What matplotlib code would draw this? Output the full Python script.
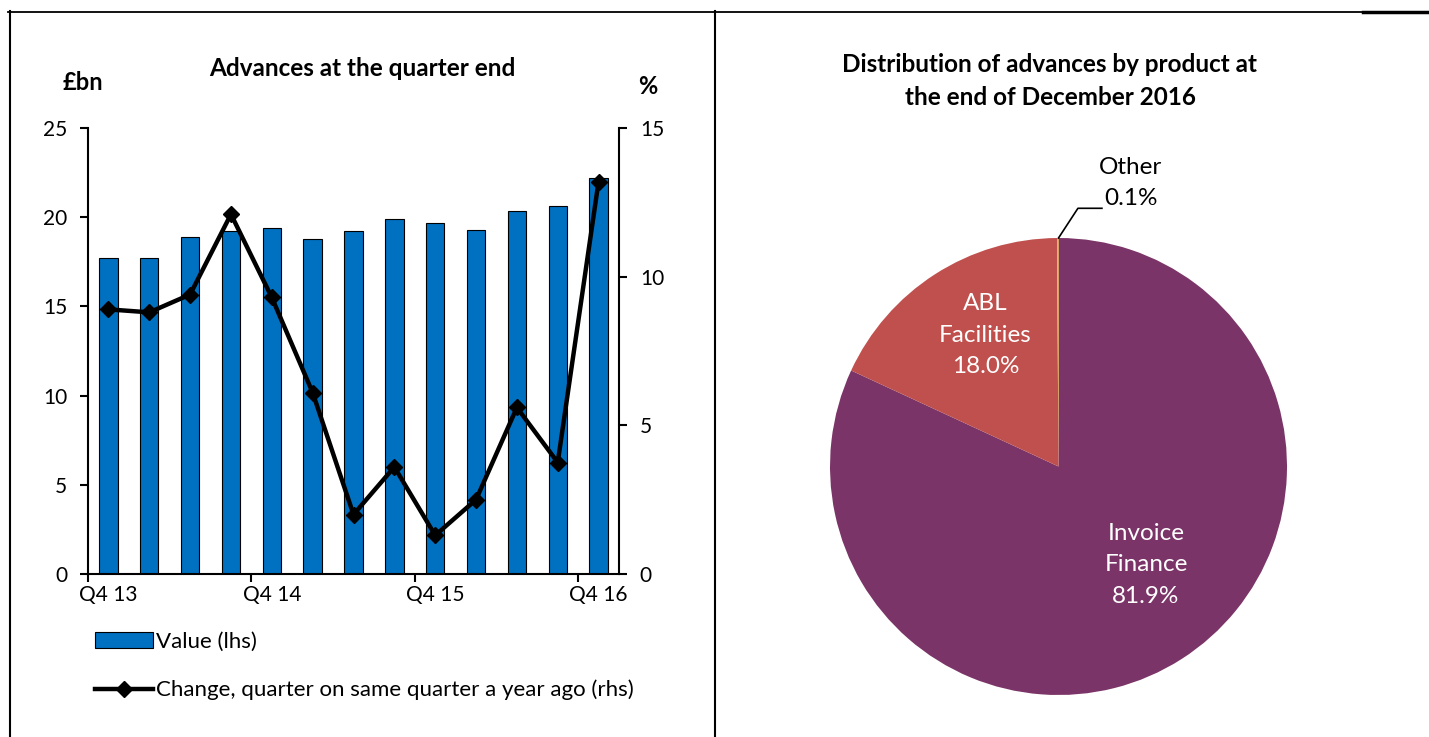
import numpy as np
import matplotlib.pyplot as plt
from matplotlib.lines import Line2D

plt.rcParams['font.family'] = ['Lato', 'DejaVu Sans']

# Dannye: levaya diagramma
quarters = ['Q4 13', 'Q1 14', 'Q2 14', 'Q3 14', 'Q4 14', 'Q1 15', 'Q2 15',
            'Q3 15', 'Q4 15', 'Q1 16', 'Q2 16', 'Q3 16', 'Q4 16']
value_bn = [17.7, 17.7, 18.9, 19.2, 19.4, 18.8, 19.25, 19.9, 19.65, 19.3, 20.35, 20.65, 22.2]
change_pct = [8.9, 8.8, 9.4, 12.1, 9.3, 6.1, 2.0, 3.6, 1.3, 2.5, 5.6, 3.75, 13.2]
shown_labels = ['Q4 13', 'Q4 14', 'Q4 15', 'Q4 16']

# Dannye: krugovaya diagramma
products = ['Invoice\nFinance', 'ABL\nFacilities', 'Other']
shares = [81.9, 18.0, 0.1]
pie_colors = ['#7B3467', '#C0504D', '#F2B01E']

W, H = 1429, 737
fig = plt.figure(figsize=(W / 100, H / 100), dpi=100)


def fx(px):
    return px / W


def fy(py):
    return 1 - py / H


FS = 15        # podpisi osei
FS_LEG = 16    # legenda
FS_T = 17.5    # zagolovki
FS_PIE = 17.5  # podpisi sektorov

# ---- Levaya diagramma ----
ax = fig.add_axes([fx(88), fy(574), fx(619) - fx(88), fy(128) - fy(574)])
x = np.arange(len(quarters))
ax.bar(x, value_bn, width=0.45, color='#0070C0', edgecolor='black', linewidth=0.8,
       label='Value (lhs)', zorder=2)
ax.set_xlim(-0.5, len(quarters) - 0.5)
ax.set_ylim(0, 25)
ax.set_yticks([0, 5, 10, 15, 20, 25])
ax.tick_params(axis='y', direction='out', length=6, width=1.5, labelsize=FS, pad=9)

# metki mezhdu kategoriyami, podpisi pod stolbikami
ax.set_xticks([-0.5, 3.5, 7.5, 11.5])
ax.set_xticklabels([])
ax.set_xticks([quarters.index(q) for q in shown_labels], minor=True)
ax.set_xticklabels(shown_labels, minor=True)
ax.tick_params(axis='x', which='major', direction='out', length=6, width=1.5)
ax.tick_params(axis='x', which='minor', length=0, labelsize=FS, pad=8)

for s in ['top', 'right']:
    ax.spines[s].set_visible(False)
for s in ['left', 'bottom']:
    ax.spines[s].set_linewidth(1.5)

ax2 = ax.twinx()
ax2.plot(x, change_pct, color='black', lw=3.2, marker='D', markersize=8,
         label='Change, quarter on same quarter a year ago (rhs)')
ax2.set_ylim(0, 15)
ax2.set_yticks([0, 5, 10, 15])
ax2.tick_params(axis='y', direction='out', length=6, width=1.5, labelsize=FS, pad=9)
for s in ['top', 'left', 'bottom']:
    ax2.spines[s].set_visible(False)
ax2.spines['right'].set_linewidth(1.5)

h1, l1 = ax.get_legend_handles_labels()
h2, l2 = ax2.get_legend_handles_labels()
fig.legend(h1 + h2, l1 + l2, loc='upper left', bbox_to_anchor=(fx(95), fy(632)),
           frameon=False, fontsize=FS_LEG, handlelength=2.6, handletextpad=0.15,
           labelspacing=1.25, borderpad=0, borderaxespad=0)

fig.text(fx(362), fy(68), 'Advances at the quarter end', ha='center', va='center',
         fontsize=FS_T, fontweight='bold')
fig.text(fx(63), fy(82), '£bn', ha='left', va='center', fontsize=FS_T - 0.5, fontweight='bold')
fig.text(fx(648), fy(86), '%', ha='center', va='center', fontsize=FS_T - 0.5, fontweight='bold')

# ---- Krugovaya diagramma ----
cx, cy, r = 1058.5, 466.5, 228.5
pax = fig.add_axes([fx(cx - r), fy(cy + r), fx(2 * r), (2 * r) / H])
pax.pie(shares, colors=pie_colors, startangle=90, counterclock=False,
        wedgeprops=dict(linewidth=0))
pax.set_xlim(-1, 1)
pax.set_ylim(-1, 1)
pax.axis('off')

pax.text(0.383, -0.43, products[0] + '\n' + f'{shares[0]:.1f}%', ha='center', va='center',
         color='white', fontsize=FS_PIE, linespacing=1.62)
pax.text(-0.32, 0.575, products[1] + '\n' + f'{shares[1]:.1f}%', ha='center', va='center',
         color='white', fontsize=FS_PIE, linespacing=1.62)
pax.text(0.317, 1.24, products[2] + '\n' + f'{shares[2]:.1f}%', ha='center', va='center',
         color='black', fontsize=FS_PIE, linespacing=1.62, clip_on=False)
pax.plot([0, 0.085, 0.19], [1.0, 1.13, 1.13], color='black', lw=1.2, clip_on=False)

fig.text(fx(1050), fy(81), 'Distribution of advances by product at\nthe end of December 2016',
         ha='center', va='center', fontsize=FS_T, fontweight='bold', linespacing=1.5)

# ---- Ramki tablitsy ----
fig.add_artist(Line2D([fx(8), fx(1429)], [fy(11.5), fy(11.5)], color='black', lw=1.3))
fig.add_artist(Line2D([fx(1363), fx(1429)], [fy(12), fy(12)], color='black', lw=2.5))
fig.add_artist(Line2D([fx(9.5), fx(9.5)], [fy(11), fy(737)], color='black', lw=1.5))
fig.add_artist(Line2D([fx(714.5), fx(714.5)], [fy(11), fy(737)], color='black', lw=1.5))

fig.savefig('out.png', dpi=100)
